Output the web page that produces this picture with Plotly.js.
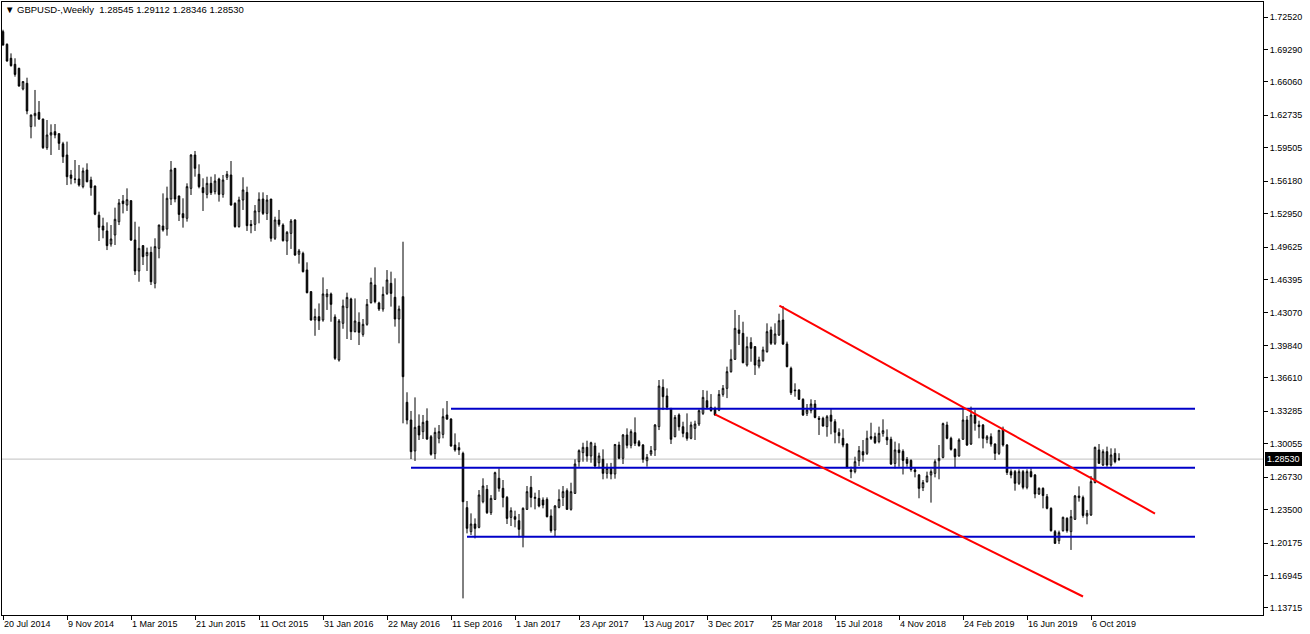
<!DOCTYPE html>
<html>
<head>
<meta charset="utf-8">
<script src="https://cdn.plot.ly/plotly-3.0.1.min.js"></script>
<style>
  html, body { margin: 0; padding: 0; background: #ffffff; }
  #chart { width: 1310px; height: 634px; }
</style>
</head>
<body>
<div id="chart"></div>
<script>
// ---- Weekly GBPUSD candles, week index 0 = 20 Jul 2014 ----
const open = [
1.7106,1.6980,1.6841,1.6781,1.6741,1.6536,1.6592,1.6161,1.6270,1.6303,
1.6237,1.5952,1.6078,1.6111,1.6091,1.5990,1.5879,1.5680,1.5640,1.5640,
1.5564,1.5730,1.5630,1.5570,1.5280,1.5172,1.5123,1.4993,1.5083,1.5215,
1.5421,1.5381,1.5424,1.5033,1.4725,1.4977,1.4877,1.4910,1.4602,1.4950,
1.5172,1.5142,1.5441,1.5746,1.5471,1.5295,1.5249,1.5547,1.5879,1.5687,
1.5554,1.5487,1.5597,1.5514,1.5640,1.5487,1.5657,1.5680,1.5398,1.5166,
1.5431,1.5507,1.5189,1.5189,1.5315,1.5441,1.5298,1.5441,1.5050,1.5232,
1.5182,1.5023,1.5099,1.5232,1.4891,1.4900,1.4735,1.4519,1.4237,1.4270,
1.4237,1.4469,1.4496,1.4267,1.3839,1.4204,1.4360,1.4446,1.4121,1.4214,
1.4094,1.4194,1.4410,1.4585,1.4406,1.4346,1.4502,1.4602,1.4463,1.4247,
1.4469,1.3418,1.3242,1.2934,1.3182,1.3126,1.3232,1.3076,1.2907,1.3060,
1.3099,1.3292,1.3252,1.2993,1.2967,1.2910,1.2370,1.2131,1.2207,1.2174,
1.2429,1.2552,1.2320,1.2452,1.2662,1.2562,1.2472,1.2273,1.2280,1.2240,
1.2081,1.2353,1.2572,1.2462,1.2462,1.2446,1.2452,1.2287,1.2147,1.2373,
1.2472,1.2539,1.2353,1.2512,1.2827,1.2917,1.2970,1.2884,1.2983,1.2817,
1.2851,1.2711,1.2761,1.2705,1.2993,1.2861,1.3093,1.2990,1.3116,1.3026,
1.2993,1.2837,1.2904,1.2944,1.3176,1.3567,1.3481,1.3358,1.3076,1.3292,
1.3175,1.3116,1.3060,1.3159,1.3202,1.3308,1.3434,1.3368,1.3358,1.3340,
1.3497,1.3557,1.3723,1.3846,1.4138,1.4104,1.3789,1.4012,1.3972,1.3779,
1.3832,1.3922,1.4138,1.4005,1.4088,1.4237,1.3998,1.3756,1.3541,1.3541,
1.3448,1.3308,1.3335,1.3401,1.3259,1.3259,1.3176,1.3290,1.3225,1.3116,
1.3060,1.3003,1.2745,1.2728,1.2837,1.2927,1.2910,1.3076,1.3076,1.3027,
1.3109,1.3070,1.3050,1.2810,1.2944,1.2930,1.2850,1.2840,1.2745,1.2695,
1.2569,1.2628,1.2695,1.2711,1.2837,1.2870,1.3192,1.3060,1.2950,1.2884,
1.3050,1.3242,1.3003,1.3292,1.3192,1.3192,1.3050,1.3076,1.3003,1.2910,
1.3149,1.2993,1.2728,1.2728,1.2612,1.2728,1.2572,1.2728,1.2695,1.2506,
1.2562,1.2479,1.2363,1.2131,1.2041,1.2141,1.2264,1.2131,1.2254,1.2486,
1.2470,1.2287,1.2297,1.2619,1.2944,1.2794,1.2927,1.2794,1.2910,1.28545
];
const high = [
1.7125,1.6990,1.6890,1.6841,1.6748,1.6615,1.6648,1.6280,1.6526,1.6416,
1.6240,1.6227,1.6184,1.6187,1.6094,1.6010,1.6012,1.5730,1.5829,1.5779,
1.5753,1.5796,1.5663,1.5575,1.5315,1.5255,1.5209,1.5182,1.5355,1.5441,
1.5481,1.5547,1.5430,1.5215,1.5166,1.4983,1.4957,1.4967,1.5050,1.5185,
1.5497,1.5564,1.5819,1.5750,1.5475,1.5448,1.5597,1.5886,1.5919,1.5786,
1.5647,1.5663,1.5663,1.5687,1.5653,1.5680,1.5720,1.5819,1.5408,1.5464,
1.5657,1.5564,1.5232,1.5381,1.5507,1.5507,1.5481,1.5441,1.5265,1.5332,
1.5199,1.5123,1.5242,1.5240,1.4944,1.4917,1.4811,1.4525,1.4350,1.4402,
1.4661,1.4545,1.4510,1.4293,1.4247,1.4440,1.4509,1.4459,1.4452,1.4313,
1.4247,1.4446,1.4658,1.4761,1.4419,1.4569,1.4734,1.4718,1.4652,1.4380,
1.5016,1.3518,1.3332,1.3467,1.3298,1.3292,1.3358,1.3093,1.3166,1.3192,
1.3358,1.3431,1.3259,1.3109,1.3020,1.2927,1.2436,1.2313,1.2263,1.2545,
1.2662,1.2595,1.2495,1.2728,1.2761,1.2645,1.2486,1.2373,1.2340,1.2307,
1.2373,1.2585,1.2685,1.2519,1.2545,1.2472,1.2472,1.2353,1.2396,1.2552,
1.2585,1.2562,1.2618,1.2851,1.2950,1.3016,1.3036,1.3026,1.3016,1.2917,
1.2950,1.2811,1.2815,1.3004,1.3026,1.3103,1.3159,1.3149,1.3268,1.3043,
1.3003,1.2904,1.2983,1.3202,1.3640,1.3647,1.3557,1.3358,1.3292,1.3308,
1.3225,1.3308,1.3225,1.3235,1.3348,1.3540,1.3534,1.3500,1.3375,1.3540,
1.3590,1.3773,1.3945,1.4337,1.4287,1.4220,1.4071,1.4065,1.3978,1.3872,
1.3972,1.4204,1.4171,1.4204,1.4300,1.4376,1.4022,1.3773,1.3607,1.3547,
1.3458,1.3401,1.3448,1.3441,1.3282,1.3275,1.3292,1.3360,1.3250,1.3159,
1.3149,1.3010,1.2778,1.2877,1.2983,1.3043,1.3136,1.3215,1.3116,1.3176,
1.3249,1.3149,1.3076,1.3027,1.3010,1.2950,1.2874,1.2850,1.2771,1.2705,
1.2645,1.2728,1.2751,1.2850,1.2993,1.3216,1.3225,1.3076,1.2960,1.3060,
1.3368,1.3282,1.3375,1.3341,1.3235,1.3202,1.3093,1.3109,1.3010,1.3142,
1.3176,1.3003,1.2751,1.2745,1.2751,1.2745,1.2751,1.2761,1.2705,1.2572,
1.2572,1.2506,1.2373,1.2148,1.2141,1.2280,1.2274,1.2347,1.2496,1.2582,
1.2490,1.2347,1.2685,1.2977,1.3003,1.2950,1.2977,1.2960,1.2960,1.29112
];
const low = [
1.6967,1.6808,1.6758,1.6658,1.6559,1.6522,1.6284,1.6045,1.6161,1.6227,
1.5939,1.5930,1.5879,1.6045,1.5929,1.5800,1.5580,1.5587,1.5597,1.5564,
1.5547,1.5607,1.5474,1.5280,1.5023,1.5050,1.4933,1.4967,1.4983,1.5182,
1.5298,1.5322,1.5023,1.4685,1.4618,1.4784,1.4725,1.4585,1.4552,1.4851,
1.5116,1.5076,1.5381,1.5408,1.5222,1.5156,1.5216,1.5481,1.5663,1.5547,
1.5322,1.5448,1.5481,1.5487,1.5415,1.5454,1.5630,1.5375,1.5156,1.5156,
1.5332,1.5123,1.5100,1.5123,1.5199,1.5282,1.5232,1.5017,1.5033,1.5166,
1.5017,1.4884,1.4944,1.4875,1.4798,1.4710,1.4502,1.4230,1.4080,1.4138,
1.4220,1.4337,1.4220,1.3840,1.3823,1.4150,1.4048,1.4038,1.4114,1.3988,
1.4071,1.4180,1.4400,1.4403,1.4327,1.4320,1.4486,1.4370,1.4171,1.4005,
1.3209,1.3199,1.2854,1.2834,1.3043,1.3053,1.3043,1.2887,1.2854,1.3010,
1.3060,1.3242,1.2977,1.2927,1.2894,1.1467,1.2114,1.2098,1.2064,1.2164,
1.2413,1.2307,1.2297,1.2446,1.2529,1.2373,1.2207,1.2187,1.2174,1.2074,
1.1975,1.2347,1.2373,1.2353,1.2373,1.2363,1.2273,1.2121,1.2088,1.2363,
1.2386,1.2347,1.2340,1.2506,1.2777,1.2827,1.2827,1.2817,1.2761,1.2761,
1.2652,1.2660,1.2652,1.2658,1.2851,1.2804,1.2960,1.2960,1.2983,1.2977,
1.2817,1.2778,1.2884,1.2884,1.3142,1.3341,1.3341,1.3003,1.3070,1.3136,
1.3070,1.3036,1.3050,1.3043,1.3182,1.3292,1.3348,1.3325,1.3285,1.3330,
1.3474,1.3460,1.3713,1.3839,1.3988,1.3806,1.3773,1.3822,1.3690,1.3756,
1.3822,1.3912,1.3988,1.3988,1.4078,1.3988,1.3766,1.3491,1.3474,1.3441,
1.3282,1.3282,1.3308,1.3259,1.3093,1.3176,1.3076,1.3100,1.3010,1.3010,
1.2970,1.2761,1.2663,1.2711,1.2784,1.2827,1.2894,1.3043,1.3003,1.3010,
1.3076,1.2993,1.2794,1.2760,1.2777,1.2700,1.2777,1.2728,1.2671,1.2463,
1.2535,1.2619,1.2420,1.2671,1.2652,1.2860,1.3050,1.2937,1.2771,1.2877,
1.3045,1.2983,1.2993,1.3136,1.3060,1.2960,1.3010,1.2977,1.2844,1.2894,
1.2977,1.2695,1.2662,1.2539,1.2595,1.2552,1.2552,1.2671,1.2463,1.2496,
1.2363,1.2353,1.2131,1.2008,1.2008,1.2131,1.2121,1.1949,1.2247,1.2430,
1.2270,1.2204,1.2287,1.2612,1.2804,1.2784,1.2777,1.2777,1.2811,1.28346
];
const close = [
1.6973,1.6814,1.6768,1.6681,1.6565,1.6609,1.6317,1.6277,1.6293,1.6237,
1.5952,1.6078,1.6101,1.6078,1.5995,1.5862,1.5663,1.5647,1.5637,1.5580,
1.5720,1.5613,1.5554,1.5290,1.5159,1.5132,1.4977,1.5043,1.5239,1.5401,
1.5395,1.5434,1.5033,1.4725,1.4950,1.4867,1.4910,1.4618,1.4967,1.5182,
1.5132,1.5448,1.5730,1.5441,1.5288,1.5255,1.5564,1.5879,1.5746,1.5564,
1.5504,1.5597,1.5504,1.5620,1.5487,1.5630,1.5687,1.5381,1.5166,1.5431,
1.5531,1.5176,1.5176,1.5322,1.5438,1.5298,1.5431,1.5050,1.5232,1.5189,
1.5027,1.5109,1.5222,1.4884,1.4924,1.4718,1.4509,1.4237,1.4270,1.4230,
1.4496,1.4496,1.4393,1.3856,1.4227,1.4376,1.4462,1.4121,1.4227,1.4114,
1.4194,1.4393,1.4609,1.4419,1.4346,1.4492,1.4635,1.4502,1.4247,1.4346,
1.3673,1.3242,1.2927,1.3169,1.3093,1.3219,1.3053,1.2901,1.3119,1.3126,
1.3275,1.3252,1.2983,1.2944,1.2944,1.2429,1.2164,1.2207,1.2164,1.2496,
1.2585,1.2320,1.2462,1.2718,1.2562,1.2472,1.2263,1.2340,1.2254,1.2154,
1.2363,1.2529,1.2472,1.2472,1.2386,1.2396,1.2280,1.2141,1.2386,1.2452,
1.2529,1.2353,1.2529,1.2804,1.2937,1.2970,1.2884,1.3016,1.2784,1.2884,
1.2711,1.2761,1.2705,1.2998,1.2861,1.3093,1.2990,1.3126,1.3010,1.2987,
1.2851,1.2871,1.2937,1.3192,1.3580,1.3474,1.3368,1.3050,1.3268,1.3175,
1.3109,1.3060,1.3192,1.3202,1.3335,1.3467,1.3368,1.3335,1.3292,1.3497,
1.3557,1.3723,1.3846,1.4154,1.4104,1.3812,1.3972,1.3955,1.3789,1.3839,
1.3939,1.4121,1.4005,1.4098,1.4230,1.3998,1.3773,1.3514,1.3534,1.3448,
1.3292,1.3341,1.3401,1.3268,1.3249,1.3182,1.3275,1.3230,1.3120,1.3086,
1.2993,1.2771,1.2728,1.2827,1.2937,1.2894,1.3060,1.3060,1.3017,1.3109,
1.3136,1.3043,1.2804,1.2944,1.2917,1.2840,1.2810,1.2750,1.2728,1.2562,
1.2619,1.2685,1.2728,1.2827,1.2860,1.3206,1.3060,1.2950,1.2877,1.3043,
1.3242,1.2993,1.3292,1.3209,1.3176,1.3060,1.3076,1.3003,1.2910,1.3140,
1.2993,1.2720,1.2695,1.2612,1.2728,1.2572,1.2728,1.2678,1.2506,1.2562,
1.2490,1.2363,1.2141,1.2015,1.2121,1.2274,1.2141,1.2280,1.2486,1.2470,
1.2293,1.2313,1.2629,1.2970,1.2811,1.2927,1.2794,1.2894,1.2827,1.28530
];

// x-axis labels (every 16 weeks) and right-axis price labels
const dateTickWeeks = [0,16,32,48,64,80,96,112,128,144,160,176,192,208,224,240,256,272];
const dateTickLabels = ['20 Jul 2014','9 Nov 2014','1 Mar 2015','21 Jun 2015','11 Oct 2015','31 Jan 2016',
  '22 May 2016','11 Sep 2016','1 Jan 2017','23 Apr 2017','13 Aug 2017','3 Dec 2017','25 Mar 2018',
  '15 Jul 2018','4 Nov 2018','24 Feb 2019','16 Jun 2019','6 Oct 2019'];
const priceTicks = [1.72520,1.69290,1.66060,1.62735,1.59505,1.56180,1.52950,1.49625,1.46395,
  1.43070,1.39840,1.36610,1.33285,1.30055,1.26730,1.23500,1.20175,1.16945,1.13715];

// drawn objects: horizontal support/resistance levels (blue) and trend lines (red)
const levelPrices = [1.33545, 1.27674, 1.20809];
const levelStartWeeks = [112, 102, 116];
const levelEndWeek = 298;
const trendUpperWeeks = [194.1, 288];
const trendUpperPrices = [1.43794, 1.23117];
const trendLowerWeeks = [178, 270];
const trendLowerPrices = [1.32988, 1.14858];

const weeks = open.map((_, i) => i);
const n = close.length;
const lastO = open[n-1], lastH = high[n-1], lastL = low[n-1], lastC = close[n-1];

const FONT = 'Liberation Sans, Arial, sans-serif';

const traces = [];
traces.push({
  type: 'candlestick',
  x: weeks, open: open, high: high, low: low, close: close,
  increasing: { line: { color: '#000000', width: 1 }, fillcolor: '#ffffff' },
  decreasing: { line: { color: '#000000', width: 1 }, fillcolor: '#000000' },
  whiskerwidth: 0,
  hoverinfo: 'skip',
  showlegend: false
});
levelPrices.forEach((p, i) => {
  traces.push({
    type: 'scatter', mode: 'lines',
    x: [levelStartWeeks[i], levelEndWeek], y: [p, p],
    line: { color: '#0000c8', width: 2 },
    hoverinfo: 'skip', showlegend: false
  });
});
traces.push({
  type: 'scatter', mode: 'lines', x: trendUpperWeeks, y: trendUpperPrices,
  line: { color: '#ff0000', width: 2 }, hoverinfo: 'skip', showlegend: false
});
traces.push({
  type: 'scatter', mode: 'lines', x: trendLowerWeeks, y: trendLowerPrices,
  line: { color: '#ff0000', width: 2 }, hoverinfo: 'skip', showlegend: false
});

// geometry: plot area x 2..1263, y 2..615 ; 4 px per week, ~1005 px per 1.0 price
const PLOT_W = 1261, PLOT_H = 613;
const xmin = -0.25, xmax = xmin + PLOT_W / 4;
const ymax = 1.7252 + 15 / 1005, ymin = ymax - PLOT_H / 1005;

const layout = {
  width: 1310, height: 634,
  margin: { l: 2, r: 47, t: 2, b: 19, pad: 0 },
  paper_bgcolor: '#ffffff', plot_bgcolor: '#ffffff',
  hovermode: false,
  boxgap: 0.45,
  showlegend: false,
  font: { family: FONT, size: 9, color: '#000000' },
  title: {
    text: '\u25BC GBPUSD-,Weekly\u00a0\u00a0' + [lastO, lastH, lastL, lastC].map(v => v.toFixed(5)).join('\u00a0'),
    font: { family: FONT, size: 9.5, color: '#000000' },
    xref: 'container', yref: 'container',
    x: 5 / 1310, xanchor: 'left', y: 1 - 9.5 / 634, yanchor: 'middle'
  },
  xaxis: {
    type: 'linear', range: [xmin, xmax],
    rangeslider: { visible: false },
    tickmode: 'array', tickvals: dateTickWeeks, ticktext: dateTickLabels,
    ticks: 'outside', ticklen: 4, tickwidth: 1, tickcolor: '#000000',
    ticklabelposition: 'outside right',
    tickfont: { family: FONT, size: 9, color: '#000000' },
    showline: true, linecolor: '#000000', linewidth: 1, mirror: true,
    showgrid: false, zeroline: false, fixedrange: true
  },
  yaxis: {
    side: 'right', range: [ymin, ymax],
    tickmode: 'array', tickvals: priceTicks, ticktext: priceTicks.map(v => v.toFixed(5)),
    ticks: 'outside', ticklen: 4, tickwidth: 1, tickcolor: '#000000',
    tickfont: { family: FONT, size: 9, color: '#000000' },
    showline: true, linecolor: '#000000', linewidth: 1, mirror: true,
    showgrid: false, zeroline: false, fixedrange: true
  },
  shapes: [{
    type: 'line', xref: 'paper', x0: 0, x1: 1, yref: 'y', y0: lastC, y1: lastC,
    line: { color: '#c0c0c0', width: 1 }, layer: 'below'
  }],
  annotations: [{
    xref: 'paper', x: 1, xanchor: 'left', xshift: 2,
    yref: 'y', y: lastC, yanchor: 'middle',
    text: lastC.toFixed(5), showarrow: false,
    bgcolor: '#000000', bordercolor: '#000000', borderwidth: 1, borderpad: 1,
    font: { family: FONT, size: 9, color: '#ffffff' }
  }]
};

Plotly.newPlot('chart', traces, layout, { staticPlot: true, displayModeBar: false });
</script>
</body>
</html>
